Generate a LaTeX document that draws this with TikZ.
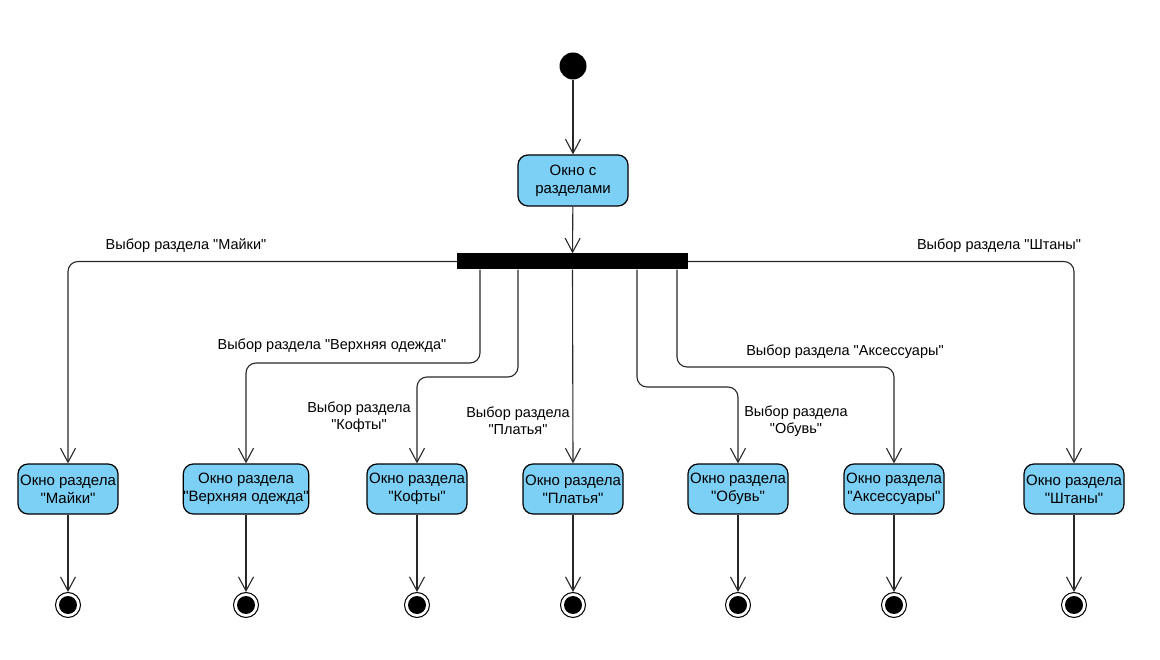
\documentclass[tikz,border=0pt]{standalone}
\usepackage{fontspec}
\setmainfont{Liberation Sans}[Ligatures=TeXOff]
\usetikzlibrary{arrows.meta}
\definecolor{boxblue}{RGB}{125,208,245}
\definecolor{linegray}{RGB}{40,40,40}
\begin{document}
\begin{tikzpicture}[x=1pt,y=-1pt,
  font=\fontsize{14.5}{17.5}\selectfont,
  flow/.style={draw=linegray,line width=1.1pt,rounded corners=10pt,
    -{Straight Barb[length=14pt,width=15pt,line width=1.1pt]}},
  activity/.style={draw=black,line width=1.2pt,fill=boxblue,rounded corners=10pt,
    minimum width=100pt,minimum height=50pt,inner xsep=0pt,inner ysep=2pt,align=center,
    font=\fontsize{15}{17.8}\selectfont},
  initstate/.style={circle,fill=black,minimum size=27pt,inner sep=0pt},
  finalstate/.style={circle,draw=black,line width=1pt,minimum size=25pt,inner sep=0pt,
    path picture={\fill[black] (path picture bounding box.center) circle (9pt);}},
  forkbar/.style={fill=black,minimum width=231pt,minimum height=16pt,inner sep=0pt},
  guard/.style={align=center,inner sep=0pt}]
\useasboundingbox (0,0) rectangle (1160,660);

% start, main window and the fork bar
\node[initstate] (start) at (573,66) {};
\node[activity,minimum width=110pt,minimum height=51pt] (main) at (573,180.5) {Окно с\\разделами};
\node[forkbar] (bar) at (572.5,261.5) {};

% section windows
\node[activity] (maiki) at (68,489) {Окно раздела\\"Майки"};
\node[activity,minimum width=120pt] (verh) at (246,489) {Окно раздела\\"Верхняя одежда"};
\node[activity] (kofty) at (417,489) {Окно раздела\\"Кофты"};
\node[activity] (platya) at (573,489) {Окно раздела\\"Платья"};
\node[activity] (obuv) at (738,489) {Окно раздела\\"Обувь"};
\node[activity] (aks) at (894,489) {Окно раздела\\"Аксессуары"};
\node[activity] (shtany) at (1074,489) {Окно раздела\\"Штаны"};

% final states
\node[finalstate] (fmaiki) at (68,605) {};
\node[finalstate] (fverh) at (246,605) {};
\node[finalstate] (fkofty) at (417,605) {};
\node[finalstate] (fplatya) at (573,605) {};
\node[finalstate] (fobuv) at (738,605) {};
\node[finalstate] (faks) at (894,605) {};
\node[finalstate] (fshtany) at (1074,605) {};

% guard labels
\node[guard] (gmaiki) at (186,246) {Выбор раздела "Майки"};
\node[guard] (gshtany) at (999,246) {Выбор раздела "Штаны"};
\node[guard] (gverh) at (332,346) {Выбор раздела "Верхняя одежда"};
\node[guard] (gaks) at (845,352) {Выбор раздела "Аксессуары"};
\node[guard] (gkofty) at (359,417) {Выбор раздела\\"Кофты"};
\node[guard] (gplatya) at (518,421) {Выбор раздела\\"Платья"};
\node[guard] (gobuv) at (796,421) {Выбор раздела\\"Обувь"};

% transitions
\draw[flow] (start) -- (main);
\draw[flow] (main) -- (bar);
\draw[flow] (bar.west) -| (maiki.north);
\draw[flow] (bar.east) -| (shtany.north);
\draw[flow] ([xshift=-92.5pt]bar.south) -- ([xshift=-92.5pt]bar.south |- 0,363) -| (verh.north);
\draw[flow] ([xshift=-54.5pt]bar.south) -- ([xshift=-54.5pt]bar.south |- 0,377) -| (kofty.north);
\draw[flow] (bar.south) -- (platya.north);
\draw[flow] ([xshift=64.5pt]bar.south) -- ([xshift=64.5pt]bar.south |- 0,387) -| (obuv.north);
\draw[flow] ([xshift=104.5pt]bar.south) -- ([xshift=104.5pt]bar.south |- 0,367) -| (aks.north);

\foreach \s/\f in {maiki/fmaiki,verh/fverh,kofty/fkofty,platya/fplatya,obuv/fobuv,aks/faks,shtany/fshtany}
  \draw[flow] (\s) -- (\f);
\end{tikzpicture}
\end{document}
